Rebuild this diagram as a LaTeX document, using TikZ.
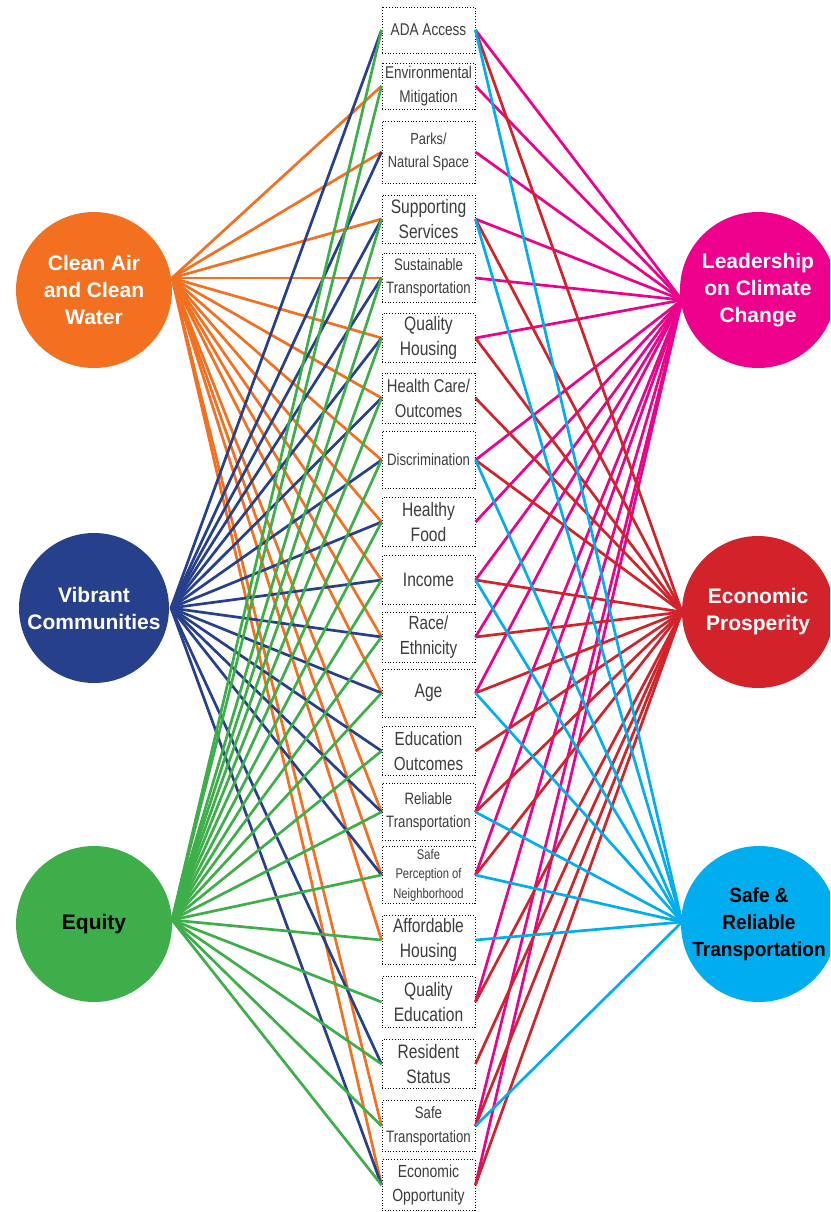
\documentclass[tikz,border=0pt]{standalone}
\usepackage{fontspec}
\setmainfont{Liberation Sans}
\newfontfamily\boxfont[FakeStretch=0.8]{Liberation Sans}
\newfontfamily\goalnarrow[FakeStretch=0.93]{Liberation Sans}
\definecolor{corange}{HTML}{F37021}
\definecolor{cnavy}{HTML}{27408B}
\definecolor{cgreen}{HTML}{3DAE49}
\definecolor{cmag}{HTML}{EC008C}
\definecolor{cred}{HTML}{D2232A}
\definecolor{ccyan}{HTML}{00AEEF}
\definecolor{boxtext}{HTML}{3C3C3C}
\begin{document}
\begin{tikzpicture}[x=1pt,y=-1pt,
  ibox/.style={draw=black, dash pattern=on 1pt off 1.8pt, line width=0.9pt, minimum width=93pt, inner sep=0pt, align=center, text=boxtext},
  goal/.style={circle, minimum size=156pt, inner sep=0pt, align=center, font=\bfseries\fontsize{21}{27}\selectfont},
  link/.style={line width=2.7pt}
]
\useasboundingbox (0,0) rectangle (830,1212);
\clip (0,0) rectangle (830,1212);

% goal circles
\node[goal, fill=corange, text=white] (ca) at (94,290) {Clean Air\\and Clean\\Water};
\node[goal, fill=cnavy, text=white, minimum size=150pt] (vc) at (94,608) {Vibrant\\Communities};
\node[goal, fill=cgreen, text=black] (eq) at (94,924) {Equity};
\node[goal, fill=cmag, text=white] (lc) at (758,290) {Leadership\\on Climate\\Change};
\node[goal, fill=cred, text=white, minimum size=152pt] (ep) at (758,612) {Economic\\Prosperity};
\node[goal, fill=ccyan, text=black, font=\goalnarrow\bfseries\fontsize{20.5}{27}\selectfont] (sr) at (759,924) {Safe \&\\Reliable\\Transportation};

% fan points on the circles
\coordinate (fo) at (172,278);
\coordinate (fn) at (171,608);
\coordinate (fg) at (172,920);
\coordinate (fm) at (682,300);
\coordinate (fr) at (682,612);
\coordinate (fc) at (682,922);

% indicator boxes
\node[ibox, minimum height=46pt, font=\boxfont\fontsize{17}{20}\selectfont] (b1) at (428.5,30) {ADA Access};
\node[ibox, minimum height=46pt, font=\boxfont\fontsize{17}{24}\selectfont] (b2) at (428.5,86) {Environmental\\Mitigation};
\node[ibox, minimum height=62pt, font=\boxfont\fontsize{16}{23}\selectfont] (b3) at (428.5,152) {Parks/\\Natural Space};
\node[ibox, minimum height=48pt, font=\boxfont\fontsize{19.5}{25}\selectfont] (b4) at (428.5,219) {Supporting\\Services};
\node[ibox, minimum height=49pt, font=\boxfont\fontsize{16.5}{23}\selectfont] (b5) at (428.5,278) {Sustainable\\Transportation};
\node[ibox, minimum height=49pt, font=\boxfont\fontsize{19.5}{25}\selectfont] (b6) at (428.5,338) {Quality\\Housing};
\node[ibox, minimum height=50pt, font=\boxfont\fontsize{18.5}{25}\selectfont] (b7) at (428.5,398) {Health Care/\\Outcomes};
\node[ibox, minimum height=57pt, font=\boxfont\fontsize{16.5}{20}\selectfont] (b8) at (428.5,460) {Discrimination};
\node[ibox, minimum height=49pt, font=\boxfont\fontsize{19.5}{25}\selectfont] (b9) at (428.5,522) {Healthy\\Food};
\node[ibox, minimum height=49pt, font=\boxfont\fontsize{19.5}{25}\selectfont] (b10) at (428.5,580) {Income};
\node[ibox, minimum height=50pt, font=\boxfont\fontsize{19}{25}\selectfont] (b11) at (428.5,637) {Race/\\Ethnicity};
\node[ibox, minimum height=48pt, font=\boxfont\fontsize{19.5}{25}\selectfont] (b12) at (428.5,693) {Age};
\node[ibox, minimum height=49pt, font=\boxfont\fontsize{19}{25}\selectfont] (b13) at (428.5,751) {Education\\Outcomes};
\node[ibox, minimum height=57pt, font=\boxfont\fontsize{16.5}{23}\selectfont] (b14) at (428.5,812) {Reliable\\Transportation};
\node[ibox, minimum height=57pt, font=\boxfont\fontsize{14}{19.5}\selectfont] (b15) at (428.5,875) {Safe\\Perception of\\Neighborhood};
\node[ibox, minimum height=49pt, font=\boxfont\fontsize{19.5}{25}\selectfont] (b16) at (428.5,940) {Affordable\\Housing};
\node[ibox, minimum height=51pt, font=\boxfont\fontsize{19.5}{25}\selectfont] (b17) at (428.5,1002) {Quality\\Education};
\node[ibox, minimum height=49pt, font=\boxfont\fontsize{19.5}{25}\selectfont] (b18) at (428.5,1064) {Resident\\Status};
\node[ibox, minimum height=51pt, font=\boxfont\fontsize{16.5}{24}\selectfont] (b19) at (428.5,1126) {Safe\\Transportation};
\node[ibox, minimum height=51pt, font=\boxfont\fontsize{17.5}{24}\selectfont] (b20) at (428.5,1185) {Economic\\Opportunity};

% links, left side
\foreach \i in {2,3,4,5,6,7,8,9,10,11,12,14,15,16,19,20}
  \draw[link, corange] (fo) -- (b\i.west);
\foreach \i in {1,3,4,5,6,7,8,9,10,11,12,13,14,15,18,20}
  \draw[link, cnavy] (fn) -- (b\i.west);
\foreach \i in {1,2,4,5,6,7,8,9,10,11,12,13,14,15,16,17,18,19,20}
  \draw[link, cgreen] (fg) -- (b\i.west);

% links, right side
\foreach \i in {1,2,3,4,5,6,8,9,10,11,12,14,15,17,19,20}
  \draw[link, cmag] (fm) -- (b\i.east);
\foreach \i in {1,4,6,7,8,10,11,12,13,14,15,17,18,19,20}
  \draw[link, cred] (fr) -- (b\i.east);
\foreach \i in {1,4,8,10,12,14,15,16,19}
  \draw[link, ccyan] (fc) -- (b\i.east);
\end{tikzpicture}
\end{document}
